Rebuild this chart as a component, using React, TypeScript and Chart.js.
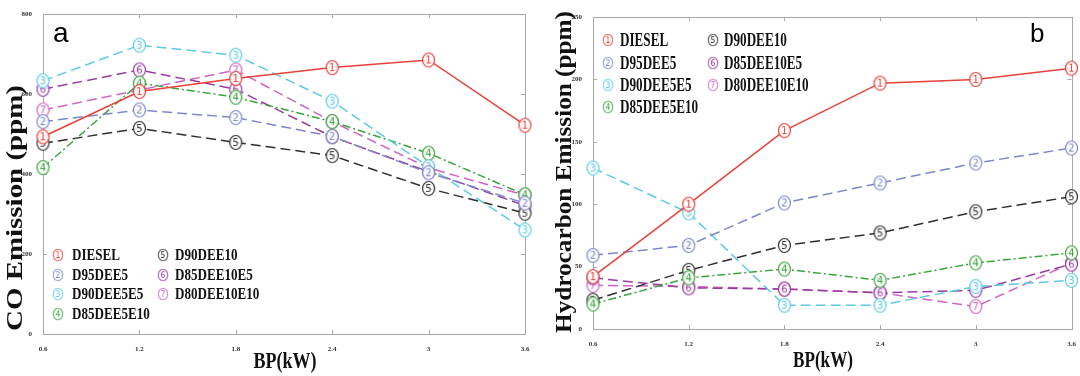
import React, { useEffect, useRef } from "react";
import { Chart, registerables } from "chart.js";

Chart.register(...registerables);

// ---------- data ----------
const bpLabels = ["0.6", "1.2", "1.8", "2.4", "3", "3.6"];
const seriesNames = ["DIESEL", "D95DEE5", "D90DEE5E5", "D85DEE5E10", "D90DEE10", "D85DEE10E5", "D80DEE10E10"];
const seriesDigits = ["1", "2", "3", "4", "5", "6", "7"];
const seriesColors = ["#e8403a", "#7d86c9", "#5ccae6", "#3aa43c", "#2f2f2f", "#9a3aa2", "#d064c2"];
const seriesDashes = [[], [10, 5], [10, 5], [8, 3, 2, 3], [10, 5], [10, 5], [10, 5]];

// CO emission (ppm)
const coDiesel = [493, 606, 639, 666, 685, 522];
const coD95DEE5 = [531, 560, 541, 494, 403, 327];
const coD90DEE5E5 = [633, 722, 697, 582, 418, 260];
const coD85DEE5E10 = [416, 627, 592, 531, 452, 348];
const coD90DEE10 = [477, 514, 479, 446, 364, 302];
const coD85DEE10E5 = [612, 660, 612, 493, 406, 321];
const coD80DEE10E10 = [560, 610, 660, 531, 415, 347];

// Hydrocarbon emission (ppm)
const hcDiesel = [42, 100, 159, 197, 200, 209];
const hcD95DEE5 = [59, 67, 101, 117, 133, 145];
const hcD90DEE5E5 = [129, 93, 19, 19, 34, 39];
const hcD85DEE5E10 = [20, 41, 48, 39, 53, 61];
const hcD90DEE10 = [23, 47, 67, 77, 94, 106];
const hcD85DEE10E5 = [41, 33, 32, 29, 31, 52];
const hcD80DEE10E10 = [35, 34, 32, 29, 18, 53];

const coYTicks = [0, 200, 400, 600, 800];
const hcYTicks = [0, 50, 100, 150, 200, 250];

const coSeries = [coDiesel, coD95DEE5, coD90DEE5E5, coD85DEE5E10, coD90DEE10, coD85DEE10E5, coD80DEE10E10];
const hcSeries = [hcDiesel, hcD95DEE5, hcD90DEE5E5, hcD85DEE5E10, hcD90DEE10, hcD85DEE10E5, hcD80DEE10E10];

// ---------- helpers ----------
function makeMarker(color: string, digit: string) {
  const c = document.createElement("canvas");
  c.width = 15;
  c.height = 17;
  const g = c.getContext("2d")!;
  g.fillStyle = "rgba(255,255,255,0.9)";
  g.beginPath();
  g.ellipse(7.5, 8.5, 6, 7, 0, 0, Math.PI * 2);
  g.fill();
  g.strokeStyle = color;
  g.lineWidth = 1.2;
  g.stroke();
  g.fillStyle = color;
  g.font = "10px 'DejaVu Sans'";
  g.textAlign = "center";
  g.textBaseline = "middle";
  g.fillText(digit, 7.5, 9);
  return c;
}

function fitText(
  ctx: CanvasRenderingContext2D,
  text: string,
  cx: number,
  cy: number,
  font: string,
  len: number,
  rotate: boolean
) {
  ctx.save();
  ctx.font = font;
  const w = ctx.measureText(text).width;
  ctx.translate(cx, cy);
  if (rotate) ctx.rotate(-Math.PI / 2);
  ctx.scale(len / w, 1);
  ctx.textAlign = "center";
  ctx.textBaseline = "middle";
  ctx.fillStyle = "#111";
  ctx.fillText(text, 0, 0);
  ctx.restore();
}

type PanelCfg = {
  series: number[][];
  yTicks: number[];
  yTitle: string;
  letter: string;
  area: { left: number; right: number; top: number; bottom: number };
  yTitlePos: { x: number; y: number; len: number };
  xTitlePos: { x: number; y: number; len: number };
  legend: { iconX: number[]; textX: number[]; rows: number[]; font: number; scale: number };
  letterPos: { x: number; y: number; size: number };
};

function Panel({ cfg }: { cfg: PanelCfg }) {
  const ref = useRef<HTMLCanvasElement | null>(null);
  useEffect(() => {
    const canvas = ref.current!;
    const markers = seriesColors.map((c, i) => makeMarker(c, seriesDigits[i]));
    const tickFont = { family: "'Liberation Serif'", size: 7, weight: "bold" as const };

    const decor = {
      id: "panelDecor",
      beforeDatasetsDraw(chart: any) {
        const ctx = chart.ctx as CanvasRenderingContext2D;
        const a = chart.chartArea;
        const xs = chart.scales.x;
        const ys = chart.scales.y;
        ctx.save();
        ctx.strokeStyle = "#a8a8a8";
        ctx.lineWidth = 1;
        ctx.strokeRect(Math.round(a.left) + 0.5, Math.round(a.top) + 0.5, Math.round(a.right - a.left), Math.round(a.bottom - a.top));
        ctx.beginPath();
        bpLabels.forEach((_, i) => {
          const x = Math.round(xs.getPixelForValue(i)) + 0.5;
          ctx.moveTo(x, a.bottom);
          ctx.lineTo(x, a.bottom - 4);
          ctx.moveTo(x, a.top);
          ctx.lineTo(x, a.top + 4);
        });
        cfg.yTicks.forEach((v) => {
          const y = Math.round(ys.getPixelForValue(v)) + 0.5;
          ctx.moveTo(a.left, y);
          ctx.lineTo(a.left + 4, y);
          ctx.moveTo(a.right, y);
          ctx.lineTo(a.right - 4, y);
        });
        ctx.stroke();
        ctx.restore();
      },
      afterDraw(chart: any) {
        const ctx = chart.ctx as CanvasRenderingContext2D;
        // legend
        const L = cfg.legend;
        seriesNames.forEach((name, i) => {
          const col = i < 4 ? 0 : 1;
          const row = i < 4 ? i : i - 4;
          const y = L.rows[row];
          ctx.drawImage(markers[i], L.iconX[col] - 6, y - 7, 12, 14);
          ctx.save();
          ctx.font = `bold ${L.font}px 'Liberation Serif'`;
          ctx.translate(L.textX[col], y + 1);
          ctx.scale(L.scale, 1);
          ctx.textAlign = "left";
          ctx.textBaseline = "middle";
          ctx.fillStyle = "#111";
          ctx.fillText(name, 0, 0);
          ctx.restore();
        });
        // axis titles
        fitText(ctx, cfg.yTitle, cfg.yTitlePos.x, cfg.yTitlePos.y, "bold 24px 'Liberation Serif'", cfg.yTitlePos.len, true);
        fitText(ctx, "BP(kW)", cfg.xTitlePos.x, cfg.xTitlePos.y, "bold 23px 'Liberation Serif'", cfg.xTitlePos.len, false);
        // panel letter
        ctx.save();
        ctx.font = `${cfg.letterPos.size}px 'Liberation Sans'`;
        ctx.fillStyle = "#000";
        ctx.textBaseline = "alphabetic";
        ctx.fillText(cfg.letter, cfg.letterPos.x, cfg.letterPos.y);
        ctx.restore();
      },
    };

    const chart = new Chart(canvas, {
      type: "line",
      data: {
        labels: bpLabels,
        datasets: seriesNames.map((name, i) => ({
          label: name,
          data: cfg.series[i],
          borderColor: seriesColors[i],
          backgroundColor: seriesColors[i],
          borderWidth: 1.5,
          borderDash: seriesDashes[i],
          pointStyle: markers[i] as any,
          pointRadius: 7,
          pointHoverRadius: 7,
          tension: 0,
          fill: false,
          clip: false as any,
        })),
      },
      options: {
        responsive: false,
        animation: false,
        events: [],
        layout: {
          padding: { left: 0, right: 540 - cfg.area.right, top: cfg.area.top, bottom: 0 },
        },
        plugins: { legend: { display: false }, tooltip: { enabled: false } },
        scales: {
          x: {
            type: "category",
            offset: false,
            grid: { display: false },
            border: { display: false },
            ticks: { font: tickFont, color: "#333", padding: 3, maxRotation: 0, autoSkip: false },
            afterFit: (s: any) => {
              s.height = 376 - cfg.area.bottom;
            },
          },
          y: {
            min: cfg.yTicks[0],
            max: cfg.yTicks[cfg.yTicks.length - 1],
            afterBuildTicks: (s: any) => {
              s.ticks = cfg.yTicks.map((v) => ({ value: v }));
            },
            grid: { display: false },
            border: { display: false },
            ticks: { font: tickFont, color: "#333", padding: 3 },
            afterFit: (s: any) => {
              s.width = cfg.area.left;
            },
          },
        },
      },
      plugins: [decor],
    } as any);
    return () => chart.destroy();
  }, [cfg]);
  return <canvas ref={ref} width={540} height={376} style={{ display: "block", width: 540, height: 376 }} />;
}

const panelA: PanelCfg = {
  series: coSeries,
  yTicks: coYTicks,
  yTitle: "CO Emission (ppm)",
  letter: "a",
  area: { left: 43, right: 525, top: 14, bottom: 334 },
  yTitlePos: { x: 16, y: 208, len: 246 },
  xTitlePos: { x: 285, y: 362, len: 63 },
  legend: { iconX: [58, 163], textX: [72, 175], rows: [255, 275, 294, 314], font: 17, scale: 0.77 },
  letterPos: { x: 53, y: 42, size: 28 },
};

const panelB: PanelCfg = {
  series: hcSeries,
  yTicks: hcYTicks,
  yTitle: "Hydrocarbon Emission (ppm)",
  letter: "b",
  area: { left: 53, right: 533, top: 17, bottom: 329 },
  yTitlePos: { x: 25, y: 172, len: 322 },
  xTitlePos: { x: 283, y: 361, len: 60 },
  legend: { iconX: [68, 173], textX: [80, 184], rows: [40, 63, 85, 107], font: 18, scale: 0.73 },
  letterPos: { x: 490, y: 42, size: 26 },
};

export default function App() {
  return (
    <div style={{ position: "fixed", left: 0, top: 0, width: 1080, height: 376, background: "#fff", display: "flex" }}>
      <Panel cfg={panelA} />
      <Panel cfg={panelB} />
    </div>
  );
}
